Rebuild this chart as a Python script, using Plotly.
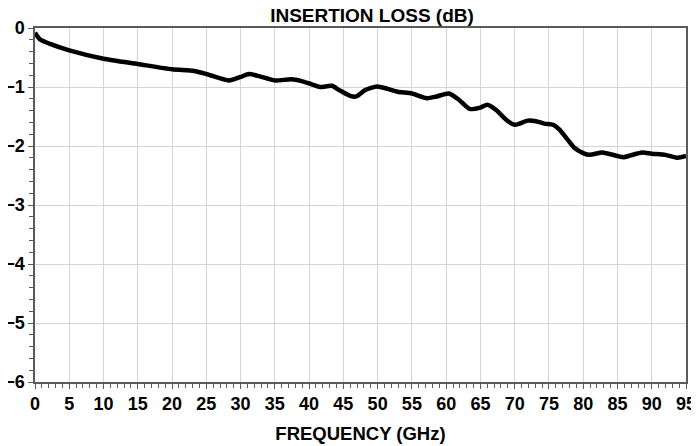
import plotly.graph_objects as go

freq_ghz = [0, 0.7, 2.2, 5, 10, 15, 20, 23.2, 25, 28.3, 30, 31.2, 32.8, 35, 37.4, 38.9,
            40, 41.6, 43.3, 44.5, 46, 46.9, 48.2, 49.9, 51.4, 52.9, 55, 57.2, 58.6, 60.4,
            61.9, 63.4, 65, 66, 67.3, 68.8, 70, 70.7, 71.9, 73.1, 74.3, 75.6, 76.5, 77.5,
            78.7, 80, 80.9, 82.8, 85, 85.9, 86.9, 88.6, 90, 92, 93.8, 95]
loss_db = [-0.08, -0.19, -0.27, -0.38, -0.52, -0.61, -0.70, -0.73, -0.78, -0.89, -0.83,
           -0.78, -0.82, -0.89, -0.87, -0.90, -0.94, -1.00, -0.98, -1.06, -1.15, -1.16,
           -1.05, -0.99, -1.03, -1.08, -1.11, -1.19, -1.16, -1.11, -1.22, -1.37, -1.35,
           -1.30, -1.39, -1.56, -1.64, -1.62, -1.57, -1.58, -1.62, -1.64, -1.72, -1.86,
           -2.03, -2.12, -2.15, -2.11, -2.17, -2.19, -2.16, -2.11, -2.13, -2.15, -2.20, -2.17]

title_text = "INSERTION LOSS (dB)"
x_title = "FREQUENCY (GHz)"

FONT = "Liberation Sans, Arial, sans-serif"
AXIS_COL = "#5a5a5a"
GRID_COL = "#d4d4d4"

# page body has an 8px default margin, so the figure is offset by 8px
W, H = 691, 438

fig = go.Figure()
fig.add_trace(go.Scatter(
    x=freq_ghz, y=loss_db, mode="lines",
    line=dict(color="black", width=4.5, shape="spline", smoothing=0.6),
    showlegend=False,
))

fig.update_layout(
    width=W, height=H,
    margin=dict(l=27, r=13, t=20, b=64),
    paper_bgcolor="white", plot_bgcolor="white",
    font=dict(family=FONT, size=18, color="black", weight="bold"),
    title=dict(text=title_text, x=364 / W, xref="container", xanchor="center",
               y=1 - 7 / H, yref="container", yanchor="middle",
               font=dict(family=FONT, size=19, color="black", weight="bold")),
)

fig.update_xaxes(
    range=[0, 95], dtick=5, tick0=0,
    showgrid=True, gridcolor=GRID_COL, gridwidth=1,
    showline=True, linecolor=AXIS_COL, linewidth=1.5, mirror=True,
    ticks="outside", ticklen=5, tickcolor=AXIS_COL, tickwidth=1,
    minor=dict(dtick=1, ticks="outside", ticklen=4, tickcolor=AXIS_COL, showgrid=False),
    zeroline=False,
    tickfont=dict(family=FONT, size=18, color="black", weight="bold"),
    ticklabelstandoff=0, ticklabeloverflow="allow",
    title=dict(text=x_title, standoff=14,
               font=dict(family=FONT, size=18.5, color="black", weight="bold")),
    automargin=False,
)
fig.update_yaxes(
    range=[-6, 0], dtick=1, tick0=0,
    showgrid=True, gridcolor=GRID_COL, gridwidth=1,
    showline=True, linecolor=AXIS_COL, linewidth=1.5, mirror=True,
    ticks="outside", ticklen=5, tickcolor=AXIS_COL, tickwidth=1,
    minor=dict(dtick=0.2, ticks="outside", ticklen=4, tickcolor=AXIS_COL, showgrid=False),
    zeroline=False,
    tickfont=dict(family=FONT, size=18, color="black", weight="bold"),
    ticklabeloverflow="allow",
    automargin=False,
)

fig.write_html("out.html")
